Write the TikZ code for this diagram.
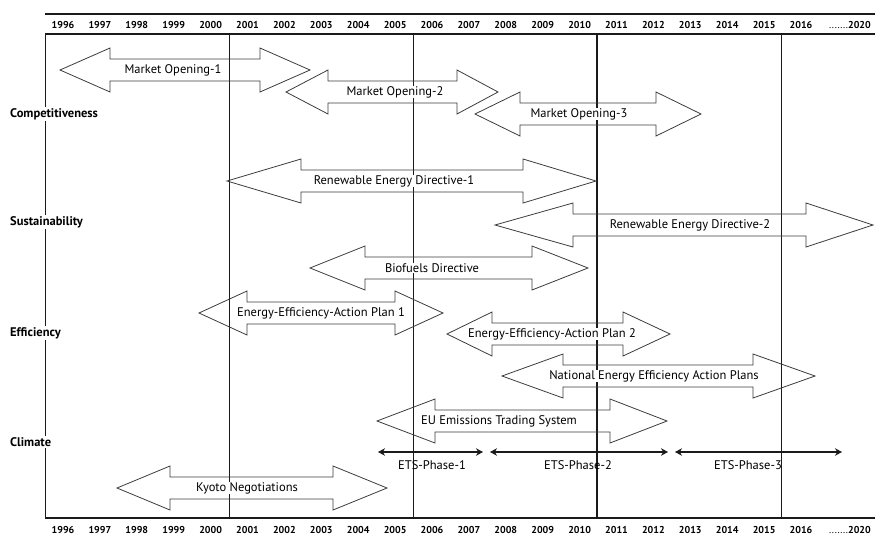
\documentclass[tikz,border=0pt]{standalone}
\usepackage{fontspec}
\setmainfont{PT Sans}
\usepackage{tikz}
\usetikzlibrary{arrows.meta}
\definecolor{cLine}{HTML}{1A1A1A}
\definecolor{cArr}{HTML}{3C3C3C}
\tikzset{
  tlbl/.style={font=\fontsize{12.5}{14}\selectfont, inner sep=0.5pt, fill=white},
  ylbl/.style={font=\bfseries\fontsize{10}{12}\selectfont, inner sep=0pt},
  rlbl/.style={font=\bfseries\fontsize{12.5}{14}\selectfont, anchor=west, fill=white, inner sep=1pt},
  parr/.style={draw=cArr, line width=0.8pt, line join=miter},
  grid/.style={draw=cLine, line width=#1},
  phase/.style={{Stealth[length=7pt,width=7.5pt]}-{Stealth[length=7pt,width=7.5pt]},
                line width=1.8pt, draw=cLine},
}
% name, left tip, left head back, right head back, right tip, y, text x, text
\newcommand{\spanarr}[8]{%
  \draw[parr] (#2,#6) -- (#3,#6-22) -- (#3,#6-11) -- (#4,#6-11) -- (#4,#6-22)
    -- (#5,#6) -- (#4,#6+22) -- (#4,#6+11) -- (#3,#6+11) -- (#3,#6+22) -- cycle;
  \node[tlbl] (#1) at (#7,#6) {#8};}

\begin{document}
\begin{tikzpicture}[x=1pt, y=-1pt]
\useasboundingbox (0,0) rectangle (875,536);
% ---- frame and year grid
\draw[grid=2.6pt] (45,14) -- (875,14);
\draw[grid=2.2pt] (45,34) -- (875,34);
\draw[grid=2.6pt] (45,518) -- (875,518);
\draw[grid=1pt] (45,34) -- (45,518);
\foreach \x/\w in {229/0.9pt, 413/0.9pt, 597/1.8pt, 781/0.9pt}
  \draw[grid=\w] (\x,34) -- (\x,518);
\foreach \yr [count=\i from 0] in {1996,...,2016} {
  \node[ylbl] (top\yr) at (63+36.9*\i,25) {\yr};
  \node[ylbl] (bot\yr) at (63+36.9*\i,530) {\yr};
}
\node[ylbl, anchor=west] (top2020) at (829,25) {\mdseries.......\bfseries2020};
\node[ylbl, anchor=west] (bot2020) at (829,530) {\mdseries.......\bfseries2020};
% ---- policy rows
\node[rlbl] (rComp) at (9,114) {Competitiveness};
\node[rlbl] (rSust) at (9,222) {Sustainability};
\node[rlbl] (rEff) at (9,333) {Efficiency};
\node[rlbl] (rClim) at (9,442) {Climate};
% ---- measures
\spanarr{mo1}{60}{110}{260}{310}{70}{173}{Market Opening-1}
\spanarr{mo2}{286}{328}{457}{498}{92}{395}{Market Opening-2}
\spanarr{mo3}{475}{520}{656}{701}{114}{579}{Market Opening-3}
\spanarr{red1}{227}{301}{523}{596}{181}{394}{Renewable Energy Directive-1}
\spanarr{red2}{495}{573}{806}{873}{225}{690}{Renewable Energy Directive-2}
\spanarr{bio}{310}{365}{532}{588}{268}{432}{Biofuels Directive}
\spanarr{eap1}{199}{247}{395}{443}{313}{321}{Energy-Efficiency-Action Plan 1}
\spanarr{eap2}{447}{492}{623}{670}{334}{552}{Energy-Efficiency-Action Plan 2}
\spanarr{neap}{502}{563}{753}{815}{376}{654}{National Energy Efficiency Action Plans}
\spanarr{ets}{377}{435}{610}{667}{421}{499}{EU Emissions Trading System}
\spanarr{kyo}{117}{170}{333}{387}{488}{247}{Kyoto Negotiations}
% ---- ETS phases
\coordinate (p1a) at (378,452); \coordinate (p1b) at (483,452);
\coordinate (p2a) at (490,452); \coordinate (p2b) at (668,452);
\coordinate (p3a) at (675,452); \coordinate (p3b) at (842,452);
\foreach \a/\b in {p1a/p1b, p2a/p2b, p3a/p3b} \draw[phase] (\a) -- (\b);
\node[tlbl, fill=none] (ph1) at (432,465) {ETS-Phase-1};
\node[tlbl, fill=none] (ph2) at (578,465) {ETS-Phase-2};
\node[tlbl, fill=none] (ph3) at (748,465) {ETS-Phase-3};
\end{tikzpicture}
\end{document}
